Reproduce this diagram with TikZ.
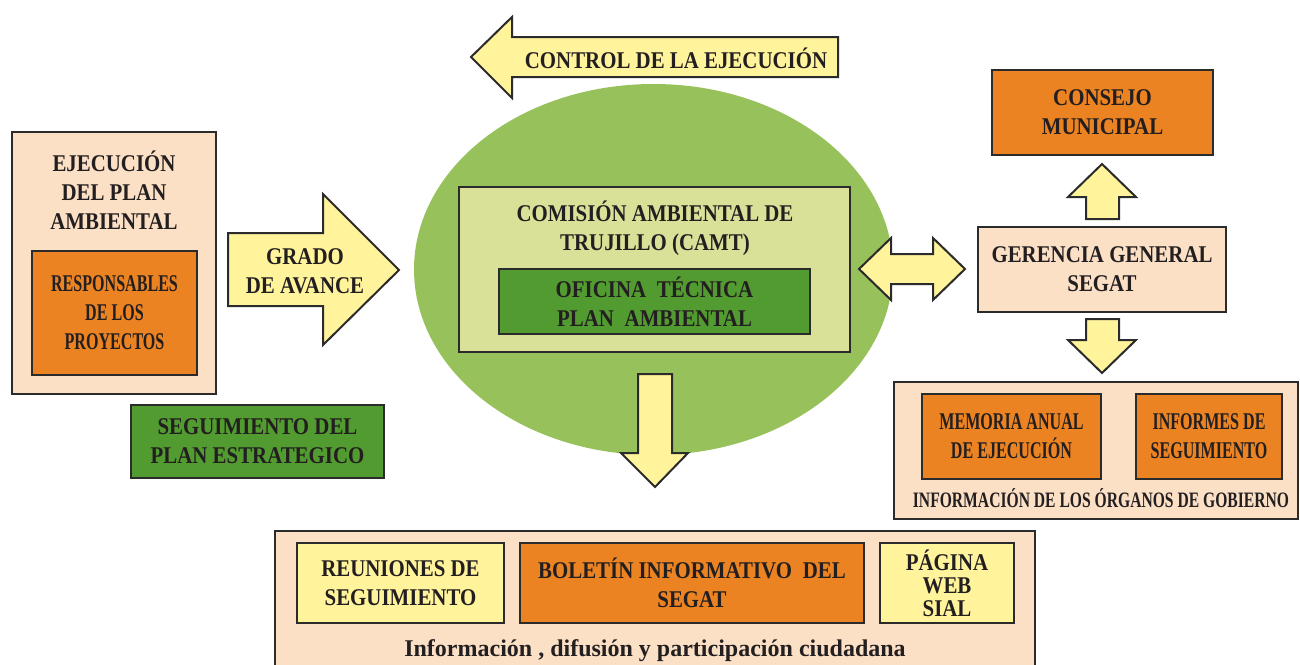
\documentclass[tikz,border=0pt]{standalone}
\usepackage{fontspec}
\setmainfont{Liberation Serif}
\newfontfamily\nrm[FakeStretch=0.87]{Liberation Serif}
\newfontfamily\cnd[FakeStretch=0.67]{Liberation Serif}
\newfontfamily\cndb[FakeStretch=0.71]{Liberation Serif}
\usetikzlibrary{shapes.geometric}
\definecolor{peach}{HTML}{FBE0C6}
\definecolor{orng}{HTML}{EC8322}
\definecolor{dgreen}{HTML}{529B30}
\definecolor{lgreen}{HTML}{97C15A}
\definecolor{camtc}{HTML}{D9E198}
\definecolor{ylw}{HTML}{FFF39B}
\definecolor{linec}{HTML}{2B2B2B}
\definecolor{textc}{HTML}{231F20}
\tikzset{
  box/.style={draw=linec, line width=2pt, inner sep=0pt, align=center, text=textc},
  txt/.style={align=center, text=textc, inner sep=0pt, font=\fontsize{24}{29}\nrm\bfseries},
  ctxt/.style={align=center, text=textc, inner sep=0pt, font=\fontsize{24}{29}\cnd\bfseries},
  blockarrow/.style={draw=linec, line width=2pt, fill=ylw, line join=miter},
}
\begin{document}
\begin{tikzpicture}[x=1pt,y=-1pt]
\useasboundingbox (0,0) rectangle (1300,664);
% left block
\node[box, fill=peach, minimum width=204, minimum height=262] (ejec) at (114,263) {};
\node[txt] (eject) at (114,190) {EJECUCIÓN\\DEL PLAN\\AMBIENTAL};
\node[box, ctxt, fill=orng, minimum width=165, minimum height=124] (resp) at (114.5,313) {RESPONSABLES\\DE LOS\\PROYECTOS};
\node[box, txt, fill=dgreen, minimum width=253, minimum height=73] (segui) at (257.5,441.5) {SEGUIMIENTO DEL\\PLAN ESTRATEGICO};
% grado de avance arrow
\draw[blockarrow] (228,233) -- (323,233) -- (323,194) -- (399,270) -- (323,345) -- (323,306) -- (228,306) -- cycle;
\node[txt] (grado) at (305,271) {GRADO\\DE AVANCE};
% control arrow
\draw[blockarrow] (471,57) -- (512,17) -- (512,37) -- (838,37) -- (838,77) -- (512,77) -- (512,98) -- cycle;
\node[txt] (control) at (676,58) {CONTROL DE LA EJECUCIÓN};
% central ellipse
\node[ellipse, fill=lgreen, minimum width=479, minimum height=371, inner sep=0pt] (circ) at (653.5,269.5) {};
\node[box, fill=camtc, minimum width=391, minimum height=165] (camt) at (654.5,269.5) {};
\node[txt] (camtt) at (655,228) {COMISIÓN AMBIENTAL DE\\TRUJILLO (CAMT)};
\node[box, txt, fill=dgreen, minimum width=311, minimum height=65] (ofi) at (654.5,301.5) {OFICINA\hspace{0.45em}TÉCNICA\\PLAN\hspace{0.45em}AMBIENTAL};
% down arrow from ellipse
\draw[blockarrow] (638,374) -- (672,374) -- (672,453) -- (688,453) -- (655,487) -- (621,453) -- (638,453) -- cycle;
% double arrow
\draw[blockarrow] (859,269) -- (891,238) -- (891,254) -- (933,254) -- (933,238) -- (965,269) -- (933,300) -- (933,284) -- (891,284) -- (891,300) -- cycle;
% right column
\node[box, txt, fill=orng, minimum width=221, minimum height=85] (consejo) at (1102.5,112.5) {CONSEJO\\MUNICIPAL};
\draw[blockarrow] (1102,164) -- (1136,197) -- (1119,197) -- (1119,219) -- (1086,219) -- (1086,197) -- (1068,197) -- cycle;
\node[box, txt, fill=peach, minimum width=248, minimum height=85] (geren) at (1102,269.5) {GERENCIA GENERAL\\SEGAT};
\draw[blockarrow] (1086,319) -- (1119,319) -- (1119,340) -- (1136,340) -- (1102,373) -- (1068,340) -- (1086,340) -- cycle;
\node[box, fill=peach, minimum width=404, minimum height=137] (infogob) at (1096,450.5) {};
\node[box, ctxt, fill=orng, minimum width=179, minimum height=85] (memo) at (1011.5,436.5) {MEMORIA ANUAL\\DE EJECUCIÓN};
\node[box, ctxt, fill=orng, minimum width=146, minimum height=85] (infor) at (1209,436.5) {INFORMES DE\\SEGUIMIENTO};
\node[align=center, text=textc, inner sep=0pt, font=\fontsize{22}{26}\cndb\bfseries] (infogobt) at (1101,498) {INFORMACIÓN DE LOS ÓRGANOS DE GOBIERNO};
% bottom block
\node[box, fill=peach, minimum width=760, minimum height=169] (bottom) at (655,615.5) {};
\node[box, txt, fill=ylw, minimum width=207, minimum height=80] (reun) at (400.5,583) {REUNIONES DE\\SEGUIMIENTO};
\node[box, txt, fill=orng, minimum width=344, minimum height=80] (bolet) at (692,583) {BOLETÍN INFORMATIVO\hspace{0.45em}DEL\\SEGAT};
\node[box, fill=ylw, minimum width=134, minimum height=80, align=center, text=textc, font=\fontsize{24}{23}\nrm\bfseries] (pagina) at (947,583) {PÁGINA\\WEB\\SIAL};
\node[align=center, text=textc, inner sep=0pt, font=\fontsize{24}{29}\bfseries] (bottomt) at (655,651) {Información , difusión y participación ciudadana};
\end{tikzpicture}
\end{document}
